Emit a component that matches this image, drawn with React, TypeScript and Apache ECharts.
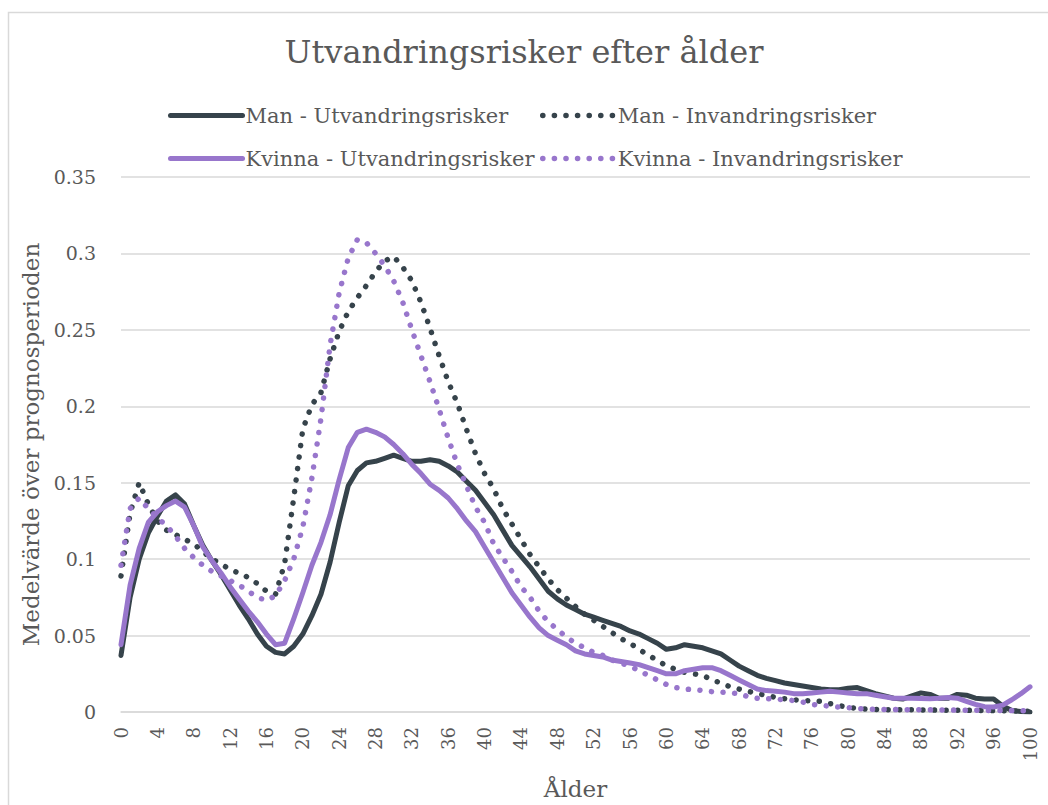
import React, { useEffect, useRef } from "react";
import * as echarts from "echarts";

const ages: string[] = Array.from({ length: 101 }, (_, i) => String(i));

const manUtv = [
  0.037, 0.075, 0.100, 0.117, 0.128, 0.138, 0.142, 0.136, 0.122, 0.109,
  0.099, 0.090, 0.080, 0.070, 0.061, 0.051, 0.043, 0.039, 0.038, 0.043,
  0.051, 0.063, 0.077, 0.098, 0.124, 0.148, 0.158, 0.163, 0.164, 0.166,
  0.168, 0.166, 0.164, 0.164, 0.165, 0.164, 0.161, 0.157, 0.151, 0.145,
  0.137, 0.129, 0.119, 0.109, 0.102, 0.095, 0.087, 0.079, 0.074, 0.070,
  0.067, 0.064, 0.062, 0.060, 0.058, 0.056, 0.053, 0.051, 0.048, 0.045,
  0.041, 0.042, 0.044, 0.043, 0.042, 0.040, 0.038, 0.034, 0.030, 0.027,
  0.024, 0.022, 0.0205, 0.019, 0.018, 0.017, 0.016, 0.015, 0.0145, 0.0145,
  0.0155, 0.016, 0.014, 0.012, 0.0105, 0.009, 0.0085, 0.0105, 0.0125, 0.0115,
  0.009, 0.009, 0.0115, 0.011, 0.009, 0.0085, 0.0085, 0.004, 0.001, 0.0003, 0,
];

const manInv = [
  0.089, 0.130, 0.150, 0.136, 0.125, 0.119, 0.116, 0.113, 0.110, 0.105,
  0.100, 0.097, 0.093, 0.091, 0.088, 0.084, 0.079, 0.077, 0.097, 0.140,
  0.185, 0.201, 0.209, 0.231, 0.249, 0.262, 0.271, 0.279, 0.288, 0.295,
  0.298, 0.291, 0.282, 0.268, 0.251, 0.233, 0.216, 0.202, 0.185, 0.169,
  0.156, 0.146, 0.133, 0.123, 0.113, 0.103, 0.095, 0.087, 0.080, 0.0745,
  0.069, 0.064, 0.060, 0.056, 0.052, 0.048, 0.045, 0.041, 0.037, 0.034,
  0.030, 0.028, 0.026, 0.025, 0.024, 0.021, 0.019, 0.0165, 0.015, 0.0135,
  0.012, 0.011, 0.0095, 0.0087, 0.008, 0.0076, 0.0072, 0.007, 0.0055, 0.0042,
  0.003, 0.0024, 0.0018, 0.0016, 0.0015, 0.0015, 0.0014, 0.0014, 0.0013, 0.0013,
  0.0012, 0.0012, 0.0011, 0.0011, 0.001, 0.001, 0.0009, 0.0008, 0.0007, 0.0006, 0.0005,
];

const kvinnaUtv = [
  0.044, 0.083, 0.107, 0.124, 0.131, 0.135, 0.138, 0.134, 0.122, 0.108,
  0.099, 0.091, 0.082, 0.074, 0.066, 0.059, 0.051, 0.044, 0.045, 0.061,
  0.078, 0.096, 0.111, 0.129, 0.152, 0.173, 0.183, 0.185, 0.183, 0.180,
  0.175, 0.169, 0.162, 0.156, 0.149, 0.145, 0.140, 0.133, 0.125, 0.118,
  0.108, 0.098, 0.088, 0.078, 0.070, 0.062, 0.055, 0.050, 0.047, 0.044,
  0.040, 0.038, 0.037, 0.036, 0.034, 0.033, 0.032, 0.031, 0.029, 0.027,
  0.025, 0.025, 0.027, 0.028, 0.029, 0.029, 0.027, 0.024, 0.021, 0.018,
  0.015, 0.014, 0.0135, 0.013, 0.012, 0.012, 0.0125, 0.013, 0.0135, 0.013,
  0.0125, 0.012, 0.012, 0.011, 0.010, 0.009, 0.009, 0.009, 0.0088, 0.0087,
  0.009, 0.0095, 0.009, 0.007, 0.005, 0.0035, 0.0033, 0.0045, 0.008, 0.012, 0.0165,
];

const kvinnaInv = [
  0.096, 0.133, 0.140, 0.133, 0.127, 0.122, 0.115, 0.107, 0.101, 0.096,
  0.092, 0.089, 0.086, 0.083, 0.079, 0.075, 0.073, 0.076, 0.086, 0.100,
  0.121, 0.153, 0.192, 0.240, 0.274, 0.297, 0.309, 0.307, 0.300, 0.292,
  0.282, 0.268, 0.250, 0.233, 0.216, 0.198, 0.179, 0.162, 0.148, 0.134,
  0.124, 0.110, 0.101, 0.092, 0.082, 0.075, 0.066, 0.059, 0.054, 0.049,
  0.045, 0.042, 0.039, 0.037, 0.034, 0.032, 0.030, 0.027, 0.024, 0.021,
  0.018, 0.016, 0.015, 0.0147, 0.014, 0.0133, 0.013, 0.0125, 0.012, 0.010,
  0.009, 0.0087, 0.0085, 0.008, 0.0075, 0.0065, 0.005, 0.0043, 0.0038, 0.0032,
  0.0028, 0.0023, 0.002, 0.0018, 0.0017, 0.0016, 0.0015, 0.0015, 0.0014, 0.0014,
  0.0013, 0.0013, 0.0012, 0.0012, 0.0011, 0.0011, 0.001, 0.001, 0.0009, 0.0009, 0.0008,
];

const seriesNames = [
  "Man - Utvandringsrisker",
  "Man - Invandringsrisker",
  "Kvinna - Utvandringsrisker",
  "Kvinna - Invandringsrisker",
];

const DARK = "#36434b";
const PURPLE = "#9876cc";
const TEXT = "#595959";
const GRID = "#d9d9d9";
const FONT = "DejaVu Serif";

export default function App() {
  const ref = useRef<HTMLDivElement>(null);
  useEffect(() => {
    if (!ref.current) return;
    const chart = echarts.init(ref.current, undefined, { renderer: "svg" });
    const solid = (color: string) => ({
      width: 5,
      color,
      cap: "round",
      join: "round",
      type: "solid",
    });
    const dotted = (color: string) => ({
      width: 5.5,
      color,
      cap: "round",
      join: "round",
      type: [0.1, 11.5],
    });
    const legendCommon = {
      itemWidth: 72,
      itemHeight: 12,
      padding: 0,
      itemGap: 0,
      itemStyle: { opacity: 0 },
      textStyle: { fontFamily: FONT, fontSize: 21, color: TEXT, padding: [0, 0, 0, -2] },
      selectedMode: false,
    };
    chart.setOption({
      animation: false,
      backgroundColor: "#ffffff",
      textStyle: { fontFamily: FONT },
      title: {
        text: "Utvandringsrisker efter ålder",
        left: "center",
        top: 36,
        padding: 0,
        textStyle: { fontFamily: FONT, fontSize: 32, fontWeight: "normal", color: TEXT },
      },
      legend: [
        { ...legendCommon, data: [seriesNames[0]], left: 168, top: 105, lineStyle: solid(DARK) },
        { ...legendCommon, data: [seriesNames[1]], left: 540, top: 105, lineStyle: dotted(DARK) },
        { ...legendCommon, data: [seriesNames[2]], left: 168, top: 148, lineStyle: solid(PURPLE) },
        { ...legendCommon, data: [seriesNames[3]], left: 540, top: 148, lineStyle: dotted(PURPLE) },
      ],
      grid: { left: 121, right: 18, top: 177, bottom: 79, containLabel: false },
      xAxis: {
        type: "category",
        data: ages,
        boundaryGap: false,
        name: "Ålder",
        nameLocation: "middle",
        nameGap: 65,
        nameTextStyle: { fontFamily: FONT, fontSize: 23, color: TEXT },
        axisLine: { lineStyle: { color: GRID, width: 1.5 } },
        axisTick: { show: false },
        axisLabel: {
          interval: 3,
          rotate: 90,
          margin: 15,
          fontFamily: FONT,
          fontSize: 18,
          color: TEXT,
        },
        splitLine: { show: false },
      },
      yAxis: {
        type: "value",
        min: 0,
        max: 0.35,
        interval: 0.05,
        name: "Medelvärde över prognosperioden",
        nameLocation: "middle",
        nameGap: 77,
        nameRotate: 90,
        nameTextStyle: { fontFamily: FONT, fontSize: 23, color: TEXT },
        axisLine: { show: false },
        axisTick: { show: false },
        axisLabel: {
          margin: 25,
          fontFamily: FONT,
          fontSize: 19,
          color: TEXT,
        },
        splitLine: { lineStyle: { color: GRID, width: 1.5 } },
      },
      graphic: [
        {
          type: "rect",
          shape: { x: 8.5, y: 12.5, width: 1200, height: 1000 },
          style: { fill: "none", stroke: GRID, lineWidth: 1.5 },
          silent: true,
        },
      ],
      series: [
        { name: seriesNames[0], type: "line", data: manUtv, symbol: "none", lineStyle: solid(DARK), itemStyle: { color: DARK } },
        { name: seriesNames[1], type: "line", data: manInv, symbol: "none", lineStyle: dotted(DARK), itemStyle: { color: DARK } },
        { name: seriesNames[2], type: "line", data: kvinnaUtv, symbol: "none", lineStyle: solid(PURPLE), itemStyle: { color: PURPLE } },
        { name: seriesNames[3], type: "line", data: kvinnaInv, symbol: "none", lineStyle: dotted(PURPLE), itemStyle: { color: PURPLE } },
      ],
    });
    return () => chart.dispose();
  }, []);
  return (
    <div
      ref={ref}
      style={{ position: "fixed", left: 0, top: 0, width: 1048, height: 805, background: "#fff" }}
    />
  );
}
